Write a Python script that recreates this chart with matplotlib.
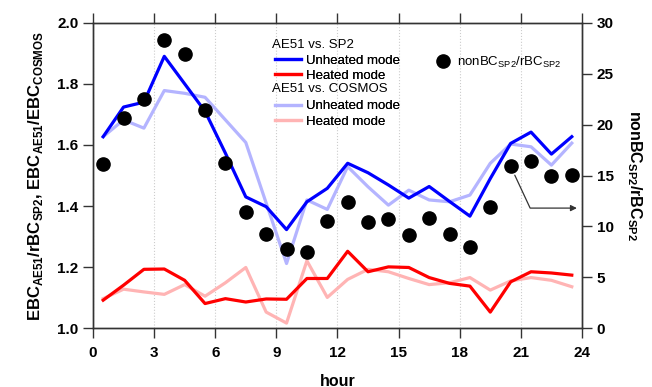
import numpy as np
import matplotlib
matplotlib.use("Agg")
import matplotlib.pyplot as plt
from matplotlib.lines import Line2D

plt.rcParams["font.family"] = ["Liberation Sans", "DejaVu Sans"]
plt.rcParams["mathtext.fontset"] = "custom"
plt.rcParams["mathtext.rm"] = "Liberation Sans"
plt.rcParams["mathtext.bf"] = "Liberation Sans:bold"

hour = np.arange(24) + 0.5

# AE51 vs. SP2
sp2_unheated = [1.627, 1.724, 1.74, 1.89, 1.80, 1.71, 1.573, 1.43, 1.398, 1.323, 1.414, 1.458,
                1.54, 1.509, 1.469, 1.426, 1.464, 1.415, 1.367, 1.49, 1.605, 1.642, 1.57, 1.627]
sp2_heated = [1.092, 1.141, 1.193, 1.194, 1.157, 1.081, 1.097, 1.086, 1.096, 1.095, 1.163, 1.163,
              1.252, 1.185, 1.201, 1.199, 1.166, 1.147, 1.138, 1.053, 1.152, 1.185, 1.181, 1.174]
# AE51 vs. COSMOS
cos_unheated = [1.627, 1.682, 1.655, 1.778, 1.769, 1.756, 1.682, 1.608, 1.41, 1.212, 1.42, 1.389,
                1.529, 1.463, 1.403, 1.452, 1.42, 1.414, 1.436, 1.54, 1.603, 1.594, 1.534, 1.606]
cos_heated = [1.097, 1.128, 1.119, 1.111, 1.143, 1.105, 1.149, 1.199, 1.053, 1.017, 1.221, 1.101,
              1.160, 1.193, 1.185, 1.163, 1.143, 1.149, 1.166, 1.125, 1.155, 1.166, 1.157, 1.136]
# nonBC/rBC (right axis)
nonbc_ratio = [16.1, 20.6, 22.5, 28.3, 26.9, 21.4, 16.2, 11.45, 9.3, 7.76, 7.5, 10.5,
               12.4, 10.4, 10.7, 9.2, 10.8, 9.3, 8.0, 11.9, 15.9, 16.4, 15.0, 15.06]

BLUE, RED = "#0000ff", "#ff0000"
LBLUE, LRED = "#b4b4ff", "#ffb4b4"

fig = plt.figure(figsize=(6.52, 3.87), dpi=100)
ax = fig.add_axes([0.1426, 0.1517, 0.75, 0.7896])
ax2 = ax.twinx()

lw = 2.3
ax.plot(hour, cos_unheated, color=LBLUE, lw=lw)
ax.plot(hour, cos_heated, color=LRED, lw=lw)
ax.plot(hour, sp2_unheated, color=BLUE, lw=lw)
ax.plot(hour, sp2_heated, color=RED, lw=lw)
ax2.plot(hour, nonbc_ratio, "o", color="black", ms=9.5, zorder=5)

ax.set_xlim(0, 24)
ax.set_ylim(1.0, 2.0)
ax2.set_ylim(0, 30)
ax.set_xticks(np.arange(0, 25, 3))
ax.set_yticks(np.arange(1.0, 2.01, 0.2))
ax2.set_yticks(np.arange(0, 31, 5))
ax.set_yticklabels([f"{v:.1f}" for v in np.arange(1.0, 2.01, 0.2)])

for a in (ax, ax2):
    for sp in a.spines.values():
        sp.set_color("#333333")
        sp.set_linewidth(1.0)
ax.tick_params(axis="both", which="both", direction="out", length=7, width=1, color="#333333",
               labelsize=11, top=True)
ax.tick_params(axis="x", pad=5.5)
ax.tick_params(axis="y", pad=3.5)
ax2.tick_params(axis="y", direction="out", length=7, width=1, color="#333333", labelsize=11,
                pad=3.5)
for lab in ax.get_xticklabels() + ax.get_yticklabels() + ax2.get_yticklabels():
    lab.set_fontweight("bold")

ax.xaxis.grid(True, ls=":", color="#cccccc", lw=0.8)
ax.set_axisbelow(True)

ax.set_xlabel("hour", fontsize=11.5, fontweight="bold", labelpad=10)
ax.set_ylabel(r"EBC$_\mathbf{AE51}$/rBC$_\mathbf{SP2}$, EBC$_\mathbf{AE51}$/EBC$_\mathbf{COSMOS}$",
              fontsize=12, fontweight="bold", labelpad=9)
ax2.set_ylabel(r"nonBC$_\mathbf{SP2}$/rBC$_\mathbf{SP2}$", fontsize=11.5, fontweight="bold",
               rotation=270, labelpad=22)

# legend: group headers as plain text, entries as legend rows
handles = [Line2D([], [], color="none"), Line2D([], [], color=BLUE, lw=lw),
           Line2D([], [], color=RED, lw=lw), Line2D([], [], color="none"),
           Line2D([], [], color=LBLUE, lw=lw), Line2D([], [], color=LRED, lw=lw)]
labels = ["", "Unheated mode", "Heated mode", "", "Unheated mode", "Heated mode"]
leg = ax.legend(handles, labels, loc="upper left", bbox_to_anchor=(0.353, 0.975), frameon=False,
                fontsize=9.5, handlelength=2.0, handletextpad=0.35, labelspacing=0.22,
                borderpad=0.2)
ax.add_artist(leg)
ax.text(0.3665, 0.927, "AE51 vs. SP2", transform=ax.transAxes, fontsize=9.5, va="center")
ax.text(0.3665, 0.783, "AE51 vs. COSMOS", transform=ax.transAxes, fontsize=9.5, va="center")

leg2 = ax2.legend([Line2D([], [], ls="none", marker="o", color="black", ms=9.5)],
                  [r"nonBC$_\mathrm{SP2}$/rBC$_\mathrm{SP2}$"], loc="upper left",
                  bbox_to_anchor=(0.675, 0.935), frameon=False, fontsize=9.5,
                  handlelength=1.2, handletextpad=0.5)

ax2.annotate("", xy=(23.75, 11.8), xytext=(20.5, 15.9),
             arrowprops=dict(arrowstyle="-|>", color="#333333", lw=0.9, shrinkA=7, shrinkB=0,
                             mutation_scale=9,
                             connectionstyle="angle,angleA=-65,angleB=0,rad=0"))

fig.savefig("out.png", dpi=100)
